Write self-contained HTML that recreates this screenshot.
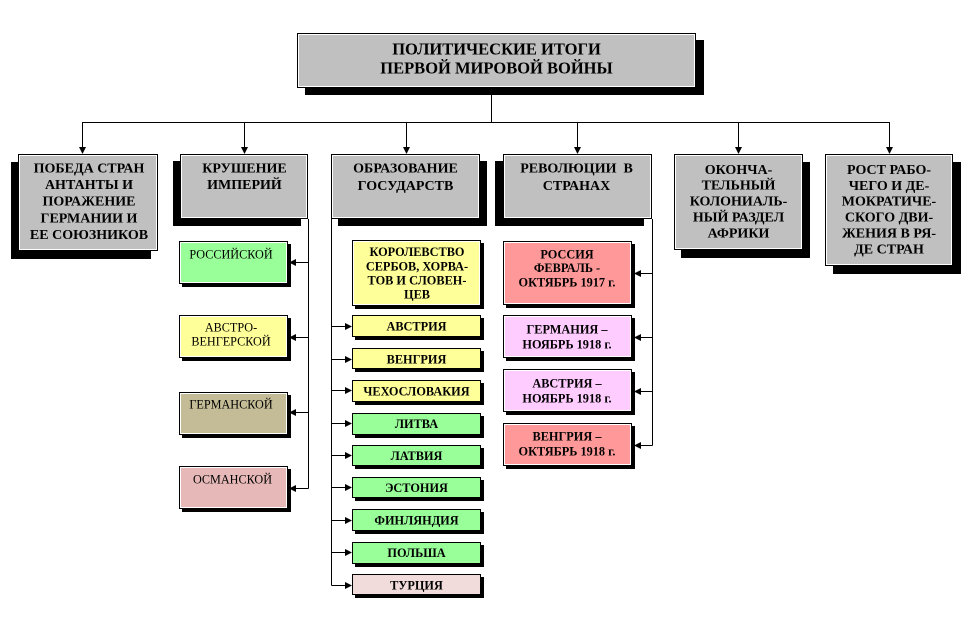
<!DOCTYPE html>
<html>
<head>
<meta charset="utf-8">
<style>
  html,body{margin:0;padding:0;background:#fff;}
  svg{display:block;}
  text{font-family:"Liberation Serif","DejaVu Serif",serif;fill:#000;}
  .t{font-size:16.5px;font-weight:bold;}
  .h{font-size:14px;font-weight:bold;}
  .s{font-size:12.2px;}
  .b{font-size:12.3px;font-weight:bold;}
</style>
</head>
<body>
<svg width="974" height="619" viewBox="0 0 974 619" xmlns="http://www.w3.org/2000/svg">
  <!-- connectors -->
  <g stroke="#000" stroke-width="1" fill="none">
    <line x1="491.5" y1="88" x2="491.5" y2="122.5"/>
    <line x1="82" y1="122.5" x2="889.5" y2="122.5"/>
    <line x1="82.5" y1="122" x2="82.5" y2="148"/>
    <line x1="244.5" y1="122" x2="244.5" y2="148"/>
    <line x1="406.5" y1="122" x2="406.5" y2="148"/>
    <line x1="577.5" y1="122" x2="577.5" y2="148"/>
    <line x1="738.5" y1="122" x2="738.5" y2="148"/>
    <line x1="889.5" y1="122" x2="889.5" y2="148"/>
    <!-- left column -->
    <line x1="308.5" y1="219" x2="308.5" y2="488.5"/>
    <line x1="294" y1="262.5" x2="308.5" y2="262.5"/>
    <line x1="294" y1="337.5" x2="308.5" y2="337.5"/>
    <line x1="294" y1="412.5" x2="308.5" y2="412.5"/>
    <line x1="294" y1="488.5" x2="308.5" y2="488.5"/>
    <!-- middle column -->
    <line x1="331.5" y1="219" x2="331.5" y2="585.5"/>
    <line x1="331.5" y1="326.5" x2="346" y2="326.5"/>
    <line x1="331.5" y1="359.5" x2="346" y2="359.5"/>
    <line x1="331.5" y1="390.5" x2="346" y2="390.5"/>
    <line x1="331.5" y1="423.5" x2="346" y2="423.5"/>
    <line x1="331.5" y1="455.5" x2="346" y2="455.5"/>
    <line x1="331.5" y1="487.5" x2="346" y2="487.5"/>
    <line x1="331.5" y1="520.5" x2="346" y2="520.5"/>
    <line x1="331.5" y1="552.5" x2="346" y2="552.5"/>
    <line x1="331.5" y1="585.5" x2="346" y2="585.5"/>
    <!-- right column -->
    <line x1="652.5" y1="219" x2="652.5" y2="445.5"/>
    <line x1="639" y1="273.5" x2="652.5" y2="273.5"/>
    <line x1="639" y1="337.5" x2="652.5" y2="337.5"/>
    <line x1="639" y1="391.5" x2="652.5" y2="391.5"/>
    <line x1="639" y1="445.5" x2="652.5" y2="445.5"/>
  </g>
  <!-- arrowheads -->
  <g fill="#000">
    <polygon points="79,147 86,147 82.5,154"/>
    <polygon points="241,147 248,147 244.5,154"/>
    <polygon points="403,147 410,147 406.5,154"/>
    <polygon points="574,147 581,147 577.5,154"/>
    <polygon points="735,147 742,147 738.5,154"/>
    <polygon points="886,147 893,147 889.5,154"/>

    <polygon points="296,259 296,266 289,262.5"/>
    <polygon points="296,334 296,341 289,337.5"/>
    <polygon points="296,409 296,416 289,412.5"/>
    <polygon points="296,485 296,492 289,488.5"/>

    <polygon points="345,323 345,330 352,326.5"/>
    <polygon points="345,356 345,363 352,359.5"/>
    <polygon points="345,387 345,394 352,390.5"/>
    <polygon points="345,420 345,427 352,423.5"/>
    <polygon points="345,452 345,459 352,455.5"/>
    <polygon points="345,484 345,491 352,487.5"/>
    <polygon points="345,517 345,524 352,520.5"/>
    <polygon points="345,549 345,556 352,552.5"/>
    <polygon points="345,582 345,589 352,585.5"/>

    <polygon points="641,270 641,277 634,273.5"/>
    <polygon points="641,334 641,341 634,337.5"/>
    <polygon points="641,388 641,395 634,391.5"/>
    <polygon points="641,442 641,449 634,445.5"/>
  </g>

  <!-- shadows -->
  <g fill="#000">
    <rect x="305" y="40" width="399" height="55"/>
    <rect x="11" y="162" width="140" height="97"/>
    <rect x="173" y="161" width="128" height="65"/>
    <rect x="338" y="161" width="149" height="65"/>
    <rect x="495" y="161" width="149" height="65"/>
    <rect x="681" y="162" width="129" height="96"/>
    <rect x="833" y="162" width="128" height="112"/>
    <!-- small -->
    <rect x="182" y="244" width="109" height="43"/>
    <rect x="182" y="318" width="109" height="43"/>
    <rect x="182" y="395" width="109" height="43"/>
    <rect x="182" y="469" width="109" height="43"/>
    <rect x="355" y="243" width="129" height="66"/>
    <rect x="355" y="318" width="129" height="22"/>
    <rect x="355" y="351" width="129" height="21"/>
    <rect x="355" y="383" width="129" height="22"/>
    <rect x="355" y="416" width="129" height="22"/>
    <rect x="355" y="448" width="129" height="21"/>
    <rect x="355" y="480" width="129" height="21"/>
    <rect x="355" y="512" width="129" height="22"/>
    <rect x="355" y="545" width="129" height="22"/>
    <rect x="355" y="577" width="129" height="21"/>
    <rect x="506" y="244" width="129" height="64"/>
    <rect x="506" y="318" width="129" height="43"/>
    <rect x="506" y="372" width="129" height="43"/>
    <rect x="506" y="426" width="129" height="43"/>
  </g>

  <!-- boxes -->
  <g stroke="#000" stroke-width="1">
    <rect x="297.5" y="33.5" width="398" height="54" fill="#c0c0c0"/>
    <rect x="18.5" y="154.5" width="139" height="96" fill="#c0c0c0"/>
    <rect x="180.5" y="154.5" width="127" height="64" fill="#c0c0c0"/>
    <rect x="331.5" y="154.5" width="148" height="64" fill="#c0c0c0"/>
    <rect x="503.5" y="154.5" width="148" height="64" fill="#c0c0c0"/>
    <rect x="674.5" y="154.5" width="128" height="95" fill="#c0c0c0"/>
    <rect x="825.5" y="154.5" width="127" height="111" fill="#c0c0c0"/>

    <rect x="179.5" y="241.5" width="108" height="42" fill="#99ff99"/>
    <rect x="179.5" y="315.5" width="108" height="42" fill="#ffff99"/>
    <rect x="179.5" y="392.5" width="108" height="42" fill="#c4bc96"/>
    <rect x="179.5" y="466.5" width="108" height="42" fill="#e6b9b8"/>

    <rect x="352.5" y="240.5" width="128" height="65" fill="#ffff99"/>
    <rect x="352.5" y="315.5" width="128" height="21" fill="#ffff99"/>
    <rect x="352.5" y="348.5" width="128" height="20" fill="#ffff99"/>
    <rect x="352.5" y="380.5" width="128" height="21" fill="#ffff99"/>
    <rect x="352.5" y="413.5" width="128" height="21" fill="#99ff99"/>
    <rect x="352.5" y="445.5" width="128" height="20" fill="#99ff99"/>
    <rect x="352.5" y="477.5" width="128" height="20" fill="#99ff99"/>
    <rect x="352.5" y="509.5" width="128" height="21" fill="#99ff99"/>
    <rect x="352.5" y="542.5" width="128" height="21" fill="#99ff99"/>
    <rect x="352.5" y="574.5" width="128" height="20" fill="#f2dcdb"/>

    <rect x="503.5" y="241.5" width="128" height="63" fill="#ff9999"/>
    <rect x="503.5" y="315.5" width="128" height="42" fill="#ffccff"/>
    <rect x="503.5" y="369.5" width="128" height="42" fill="#ffccff"/>
    <rect x="503.5" y="423.5" width="128" height="42" fill="#ff9999"/>
  </g>
  <!-- inner white highlight -->
  <g stroke="#fff" stroke-width="1" fill="none">
    <rect x="298.5" y="34.5" width="396" height="52"/>
    <rect x="19.5" y="155.5" width="137" height="94"/>
    <rect x="181.5" y="155.5" width="125" height="62"/>
    <rect x="332.5" y="155.5" width="146" height="62"/>
    <rect x="504.5" y="155.5" width="146" height="62"/>
    <rect x="675.5" y="155.5" width="126" height="93"/>
    <rect x="826.5" y="155.5" width="125" height="109"/>
    <rect x="180.5" y="242.5" width="106" height="40"/>
    <rect x="180.5" y="316.5" width="106" height="40"/>
    <rect x="180.5" y="393.5" width="106" height="40"/>
    <rect x="180.5" y="467.5" width="106" height="40"/>
    <rect x="353.5" y="241.5" width="126" height="63"/>
    <rect x="504.5" y="242.5" width="126" height="61"/>
    <rect x="504.5" y="316.5" width="126" height="40"/>
    <rect x="504.5" y="370.5" width="126" height="40"/>
    <rect x="504.5" y="424.5" width="126" height="40"/>
  </g>

  <!-- texts -->
  <g text-anchor="middle">
    <text class="t" x="496.5" y="54.3">ПОЛИТИЧЕСКИЕ ИТОГИ</text>
    <text class="t" x="496.5" y="73.3">ПЕРВОЙ МИРОВОЙ ВОЙНЫ</text>

    <text class="h" x="89" y="172.3">ПОБЕДА СТРАН</text>
    <text class="h" x="89" y="189">АНТАНТЫ И</text>
    <text class="h" x="89" y="205.7">ПОРАЖЕНИЕ</text>
    <text class="h" x="89" y="222.4">ГЕРМАНИИ И</text>
    <text class="h" x="89" y="239">ЕЕ СОЮЗНИКОВ</text>

    <text class="h" x="244.5" y="172.7">КРУШЕНИЕ</text>
    <text class="h" x="244.5" y="189">ИМПЕРИЙ</text>

    <text class="h" x="405.5" y="172.7">ОБРАЗОВАНИЕ</text>
    <text class="h" x="405.5" y="190">ГОСУДАРСТВ</text>

    <text class="h" x="576.5" y="172.7">РЕВОЛЮЦИИ&#160; В</text>
    <text class="h" x="576.5" y="190">СТРАНАХ</text>

    <text class="h" x="738.5" y="174">ОКОНЧА-</text>
    <text class="h" x="738.5" y="189.5">ТЕЛЬНЫЙ</text>
    <text class="h" x="738.5" y="205.7">КОЛОНИАЛЬ-</text>
    <text class="h" x="738.5" y="221.7">НЫЙ РАЗДЕЛ</text>
    <text class="h" x="738.5" y="237.3">АФРИКИ</text>

    <text class="h" x="889" y="174">РОСТ РАБО-</text>
    <text class="h" x="889" y="190">ЧЕГО И ДЕ-</text>
    <text class="h" x="889" y="205.7">МОКРАТИЧЕ-</text>
    <text class="h" x="889" y="221.7">СКОГО ДВИ-</text>
    <text class="h" x="889" y="237.3">ЖЕНИЯ В РЯ-</text>
    <text class="h" x="889" y="253.3">ДЕ СТРАН</text>

    <text class="s" x="231" y="258.3">РОССИЙСКОЙ</text>
    <text class="s" x="231" y="331.7">АВСТРО-</text>
    <text class="s" x="231" y="345.7">ВЕНГЕРСКОЙ</text>
    <text class="s" x="231" y="408.3">ГЕРМАНСКОЙ</text>
    <text class="s" x="232.5" y="483.3">ОСМАНСКОЙ</text>

    <text class="b" x="417" y="256">КОРОЛЕВСТВО</text>
    <text class="b" x="417" y="270.4">СЕРБОВ, ХОРВА-</text>
    <text class="b" x="417" y="284.7">ТОВ И СЛОВЕН-</text>
    <text class="b" x="417" y="298.7">ЦЕВ</text>

    <text class="b" x="416.5" y="330.7">АВСТРИЯ</text>
    <text class="b" x="416.5" y="363.5">ВЕНГРИЯ</text>
    <text class="b" x="416.5" y="395.3">ЧЕХОСЛОВАКИЯ</text>
    <text class="b" x="416.5" y="428">ЛИТВА</text>
    <text class="b" x="416.5" y="460">ЛАТВИЯ</text>
    <text class="b" x="416.5" y="492">ЭСТОНИЯ</text>
    <text class="b" x="416.5" y="524.5">ФИНЛЯНДИЯ</text>
    <text class="b" x="416.5" y="557">ПОЛЬША</text>
    <text class="b" x="416.5" y="589.3">ТУРЦИЯ</text>

    <text class="b" x="567" y="258.3">РОССИЯ</text>
    <text class="b" x="567" y="272">ФЕВРАЛЬ -</text>
    <text class="b" x="567" y="286.5">ОКТЯБРЬ 1917 г.</text>

    <text class="b" x="567" y="333.3">ГЕРМАНИЯ –</text>
    <text class="b" x="567" y="348.3">НОЯБРЬ 1918 г.</text>

    <text class="b" x="567" y="387.3">АВСТРИЯ –</text>
    <text class="b" x="567" y="402.3">НОЯБРЬ 1918 г.</text>

    <text class="b" x="567" y="440.7">ВЕНГРИЯ –</text>
    <text class="b" x="567" y="455.7">ОКТЯБРЬ 1918 г.</text>
  </g>
</svg>
</body>
</html>
